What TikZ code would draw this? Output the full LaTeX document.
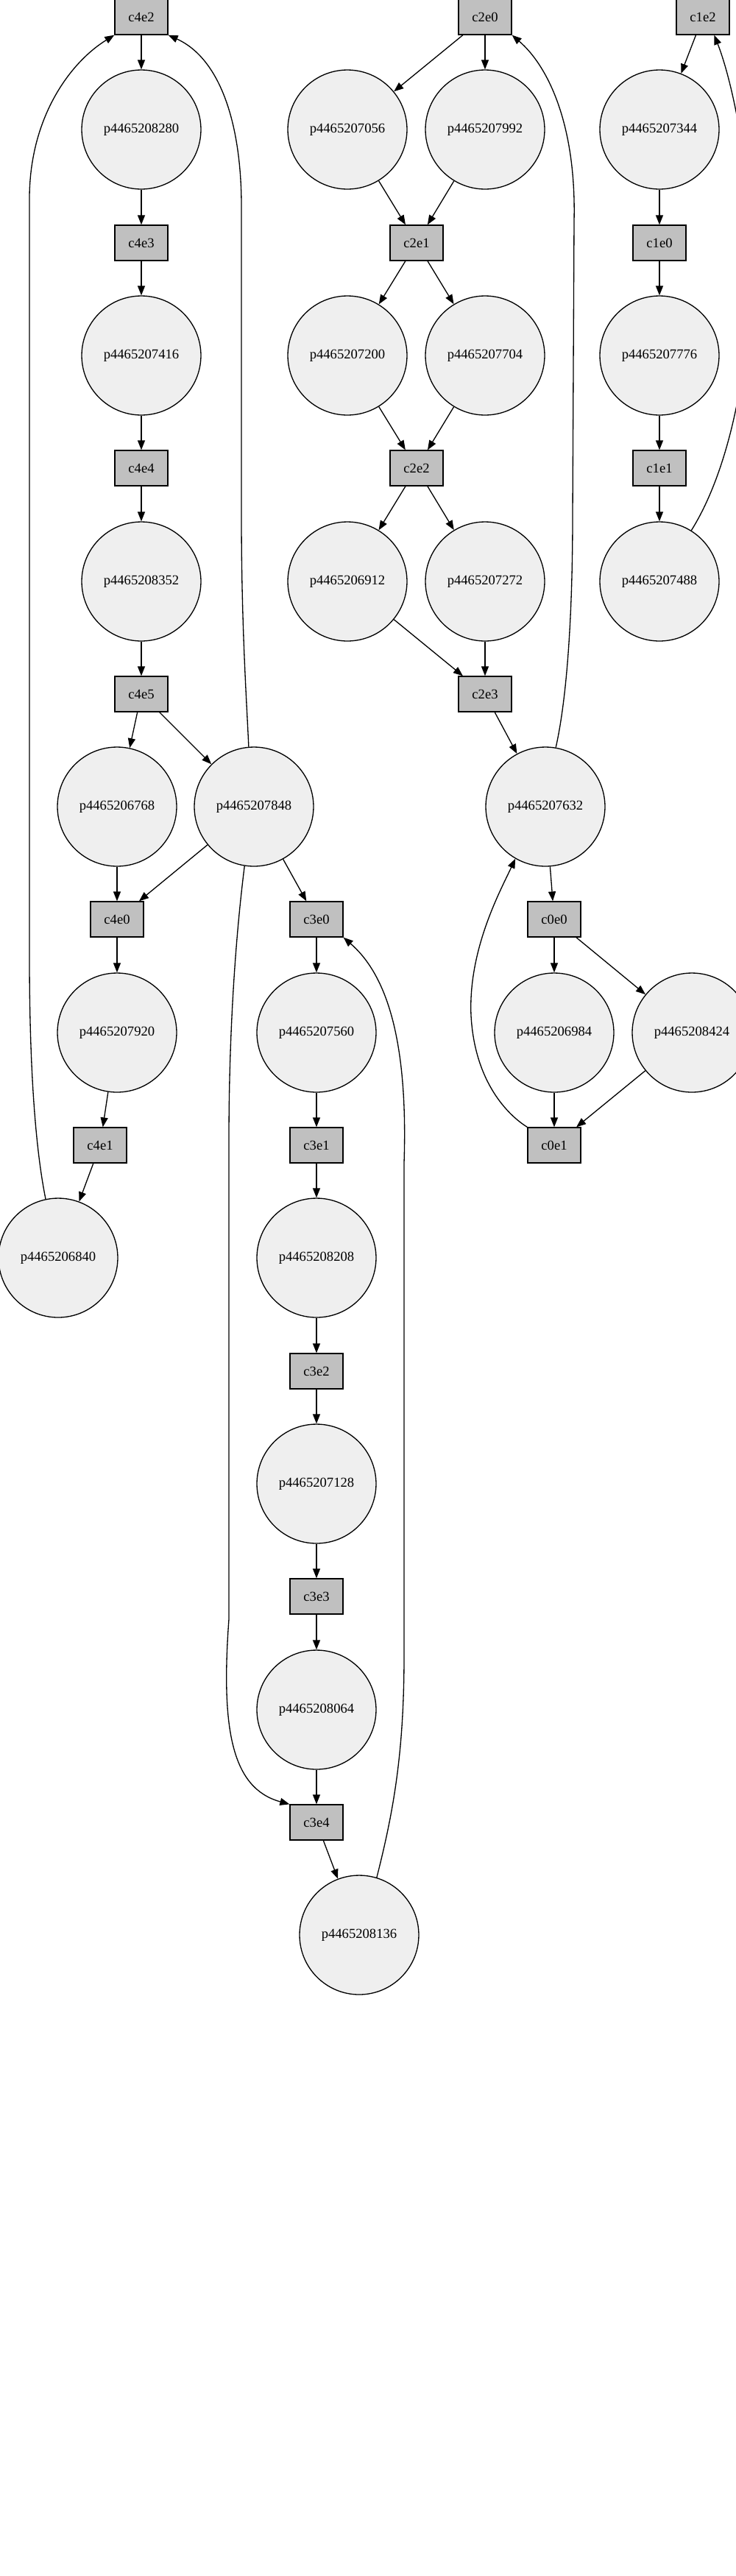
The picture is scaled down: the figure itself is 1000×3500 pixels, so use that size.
\documentclass[tikz,border=0pt]{standalone}
\usepackage{fontspec}
\setmainfont{Liberation Serif}
\usetikzlibrary{arrows.meta}
\definecolor{pfill}{HTML}{EFEFEF}
\definecolor{tfill}{HTML}{C0C0C0}
\begin{document}
\begin{tikzpicture}[x=0.02cm, y=-0.02cm,
  pnode/.style={circle, draw, line width=0.75pt, fill=pfill, minimum size=3.24cm, inner sep=0pt, font=\fontsize{10.6}{12}\selectfont},
  tnode/.style={rectangle, draw, line width=0.75pt, fill=tfill, minimum width=1.44cm, minimum height=0.96cm, inner sep=0pt, font=\fontsize{10.6}{12}\selectfont},
  arc/.style={-{Triangle[length=7.4pt,width=5.7pt]}, line width=0.75pt}]
\useasboundingbox (0,0) rectangle (1000,3500);
\clip (0,0) rectangle (1000,3500);
\fill[white] (0,0) rectangle (1000,3500);

% c4 chain
\node[tnode] (c4e2) at (192,23) {c4e2};
\node[pnode] (p4465208280) at (192,176) {p4465208280};
\node[tnode] (c4e3) at (192,330) {c4e3};
\node[pnode] (p4465207416) at (192,483) {p4465207416};
\node[tnode] (c4e4) at (192,636) {c4e4};
\node[pnode] (p4465208352) at (192,790) {p4465208352};
\node[tnode] (c4e5) at (192,943) {c4e5};
\node[pnode] (p4465206768) at (159,1096) {p4465206768};
\node[pnode] (p4465207848) at (345,1096) {p4465207848};
\node[tnode] (c4e0) at (159,1249) {c4e0};
\node[pnode] (p4465207920) at (159,1403) {p4465207920};
\node[tnode] (c4e1) at (136,1556) {c4e1};
\node[pnode] (p4465206840) at (79,1709) {p4465206840};

% c3 chain
\node[tnode] (c3e0) at (430,1249) {c3e0};
\node[pnode] (p4465207560) at (430,1403) {p4465207560};
\node[tnode] (c3e1) at (430,1556) {c3e1};
\node[pnode] (p4465208208) at (430,1709) {p4465208208};
\node[tnode] (c3e2) at (430,1863) {c3e2};
\node[pnode] (p4465207128) at (430,2016) {p4465207128};
\node[tnode] (c3e3) at (430,2169) {c3e3};
\node[pnode] (p4465208064) at (430,2323) {p4465208064};
\node[tnode] (c3e4) at (430,2476) {c3e4};
\node[pnode] (p4465208136) at (488,2629) {p4465208136};

% c2 / c0
\node[tnode] (c2e0) at (659,23) {c2e0};
\node[pnode] (p4465207056) at (472,176) {p4465207056};
\node[pnode] (p4465207992) at (659,176) {p4465207992};
\node[tnode] (c2e1) at (566,330) {c2e1};
\node[pnode] (p4465207200) at (472,483) {p4465207200};
\node[pnode] (p4465207704) at (659,483) {p4465207704};
\node[tnode] (c2e2) at (566,636) {c2e2};
\node[pnode] (p4465206912) at (472,790) {p4465206912};
\node[pnode] (p4465207272) at (659,790) {p4465207272};
\node[tnode] (c2e3) at (659,943) {c2e3};
\node[pnode] (p4465207632) at (741,1096) {p4465207632};
\node[tnode] (c0e0) at (753,1249) {c0e0};
\node[pnode] (p4465206984) at (753,1403) {p4465206984};
\node[pnode] (p4465208424) at (940,1403) {p4465208424};
\node[tnode] (c0e1) at (753,1556) {c0e1};

% c1
\node[tnode] (c1e2) at (955,23) {c1e2};
\node[pnode] (p4465207344) at (896,176) {p4465207344};
\node[tnode] (c1e0) at (896,330) {c1e0};
\node[pnode] (p4465207776) at (896,483) {p4465207776};
\node[tnode] (c1e1) at (896,636) {c1e1};
\node[pnode] (p4465207488) at (896,790) {p4465207488};

% straight edges
\draw[arc] (c4e2) -- (p4465208280);
\draw[arc] (p4465208280) -- (c4e3);
\draw[arc] (c4e3) -- (p4465207416);
\draw[arc] (p4465207416) -- (c4e4);
\draw[arc] (c4e4) -- (p4465208352);
\draw[arc] (p4465208352) -- (c4e5);
\draw[arc] (c4e5) -- (p4465206768);
\draw[arc] (c4e5) -- (p4465207848);
\draw[arc] (p4465206768) -- (c4e0);
\draw[arc] (p4465207848) -- (c4e0);
\draw[arc] (c4e0) -- (p4465207920);
\draw[arc] (p4465207920) -- (c4e1);
\draw[arc] (c4e1) -- (p4465206840);
\draw[arc] (p4465207848) -- (c3e0);
\draw[arc] (c3e0) -- (p4465207560);
\draw[arc] (p4465207560) -- (c3e1);
\draw[arc] (c3e1) -- (p4465208208);
\draw[arc] (p4465208208) -- (c3e2);
\draw[arc] (c3e2) -- (p4465207128);
\draw[arc] (p4465207128) -- (c3e3);
\draw[arc] (c3e3) -- (p4465208064);
\draw[arc] (p4465208064) -- (c3e4);
\draw[arc] (c3e4) -- (p4465208136);
\draw[arc] (c2e0) -- (p4465207056);
\draw[arc] (c2e0) -- (p4465207992);
\draw[arc] (p4465207056) -- (c2e1);
\draw[arc] (p4465207992) -- (c2e1);
\draw[arc] (c2e1) -- (p4465207200);
\draw[arc] (c2e1) -- (p4465207704);
\draw[arc] (p4465207200) -- (c2e2);
\draw[arc] (p4465207704) -- (c2e2);
\draw[arc] (c2e2) -- (p4465206912);
\draw[arc] (c2e2) -- (p4465207272);
\draw[arc] (p4465206912) -- (c2e3);
\draw[arc] (p4465207272) -- (c2e3);
\draw[arc] (c2e3) -- (p4465207632);
\draw[arc] (p4465207632) -- (c0e0);
\draw[arc] (c0e0) -- (p4465206984);
\draw[arc] (c0e0) -- (p4465208424);
\draw[arc] (p4465206984) -- (c0e1);
\draw[arc] (p4465208424) -- (c0e1);
\draw[arc] (c1e2) -- (p4465207344);
\draw[arc] (p4465207344) -- (c1e0);
\draw[arc] (c1e0) -- (p4465207776);
\draw[arc] (p4465207776) -- (c1e1);
\draw[arc] (c1e1) -- (p4465207488);

% curved edges
\draw[arc] (p4465206840.102) .. controls (48,1560) and (40,1450) .. (40,1300) -- (40,270) .. controls (40,160) and (95,85) .. (c4e2.south west);
\draw[arc] (p4465207848.95) .. controls (335,950) and (328,850) .. (328,700) -- (328,280) .. controls (328,170) and (300,80) .. (c4e2.south east);
\draw[arc] (p4465207848.261) .. controls (318,1290) and (311,1420) .. (311,1550) -- (311,2200) .. controls (300,2350) and (315,2430) .. (c3e4.north west);
\draw[arc] (p4465208136.73) .. controls (535,2460) and (549,2380) .. (549,2250) -- (549,1580) .. controls (555,1400) and (520,1320) .. (c3e0.south east);
\draw[arc] (p4465207632.80) .. controls (770,950) and (778,840) .. (778,700) -- (780,300) .. controls (783,170) and (745,90) .. (c2e0.south east);
\draw[arc] (c0e1.north west) .. controls (690,1515) and (645,1470) .. (640,1380) .. controls (636,1290) and (680,1210) .. (p4465207632.240);
\draw[arc] (p4465207488.58) .. controls (990,640) and (1020,500) .. (1020,350) .. controls (1020,230) and (995,110) .. (c1e2.-58);
\end{tikzpicture}
\end{document}
